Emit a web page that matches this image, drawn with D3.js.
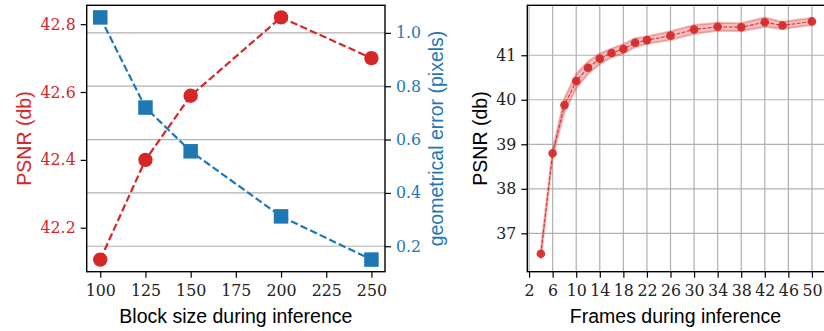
<!DOCTYPE html>
<html><head><meta charset="utf-8">
<script src="https://cdn.jsdelivr.net/npm/d3@7"></script>
<style>body{margin:0;background:#fff}svg{display:block}</style>
</head><body><svg id="c" width="824" height="331"></svg>
<script>
// ---- Data: left panel ----
const blockSizes = [100, 125, 150, 200, 250];
const blockPSNR = [42.106, 42.40, 42.589, 42.82, 42.70];
const blockGeomErr = [1.058, 0.72, 0.556, 0.312, 0.15];
const blockXTicks = [100, 125, 150, 175, 200, 225, 250];
const psnrLeftTicks = [42.2, 42.4, 42.6, 42.8];
const geomTicks = [0.2, 0.4, 0.6, 0.8, 1.0];

// ---- Data: right panel ----
const frames = [4, 6, 8, 10, 12, 14, 16, 18, 20, 22, 26, 30, 34, 38, 42, 45, 50];
const framePSNR = [36.54, 38.80, 39.88, 40.42, 40.72, 40.92, 41.05, 41.14, 41.28, 41.34, 41.44, 41.58, 41.64, 41.63, 41.74, 41.67, 41.76];
const frameLow  = [36.41, 38.72, 39.72, 40.26, 40.58, 40.80, 40.95, 41.04, 41.18, 41.26, 41.34, 41.48, 41.55, 41.54, 41.64, 41.59, 41.68];
const frameHigh = [36.66, 38.88, 40.04, 40.58, 40.86, 41.04, 41.15, 41.25, 41.38, 41.42, 41.54, 41.68, 41.73, 41.72, 41.85, 41.75, 41.84];
const frameXTicks = [2, 6, 10, 14, 18, 22, 26, 30, 34, 38, 42, 46, 50];
const frameYTicks = [37, 38, 39, 40, 41];

const RED = "#d62728", BLUE = "#1f77b4", GRID = "#b0b0b0";
const SANS = "'Liberation Sans', Arial, sans-serif";
const FS = 19.5;
const TICK_FS = "15.8px";

function pad(ext) { const r = ext[1] - ext[0]; return [ext[0] - 0.05 * r, ext[1] + 0.05 * r]; }

const svg = d3.select("#c");

function styleAxis(a, color) {
  a.select(".domain").remove();
  a.attr("font-family", "DejaVu Serif").attr("font-size", null);
  a.selectAll("text")
    .attr("font-family", "DejaVu Serif")
    .style("font-family", "'DejaVu Serif'")
    .style("font-size", TICK_FS).attr("fill", color);
  a.selectAll("line").attr("stroke", "#000").attr("stroke-width", 1.2);
}
function label(g, txt, color) {
  return g.append("text").style("font-family", SANS).style("font-size", FS + "px")
    .attr("text-anchor", "middle").attr("fill", color).text(txt);
}

// ================= LEFT PANEL =================
{
  const L = 86.7, R = 385, T = 5.3, B = 271.7;
  const x = d3.scaleLinear().domain(pad(d3.extent(blockSizes))).range([L, R]);
  const yL = d3.scaleLinear().domain(pad(d3.extent(blockPSNR))).range([B, T]);
  const yR = d3.scaleLinear().domain(pad(d3.extent(blockGeomErr))).range([B, T]);
  const g = svg.append("g");

  g.selectAll("line.grid").data(geomTicks).join("line")
    .attr("x1", L).attr("x2", R).attr("y1", d => yR(d)).attr("y2", d => yR(d))
    .attr("stroke", GRID).attr("stroke-width", 1.2);

  const ax = g.append("g").attr("transform", `translate(0,${B})`)
    .call(d3.axisBottom(x).tickValues(blockXTicks).tickSize(6).tickPadding(7).tickFormat(d3.format("d")));
  const ayl = g.append("g").attr("transform", `translate(${L},0)`)
    .call(d3.axisLeft(yL).tickValues(psnrLeftTicks).tickSize(6).tickPadding(5).tickFormat(d3.format(".1f")));
  const ayr = g.append("g").attr("transform", `translate(${R},0)`)
    .call(d3.axisRight(yR).tickValues(geomTicks).tickSize(6).tickPadding(5).tickFormat(d3.format(".1f")));
  styleAxis(ax, "#222");
  styleAxis(ayl, RED);
  styleAxis(ayr, BLUE);

  const lineL = d3.line().x((d, i) => x(blockSizes[i])).y(d => yL(d));
  const lineR = d3.line().x((d, i) => x(blockSizes[i])).y(d => yR(d));
  g.append("path").attr("d", lineL(blockPSNR)).attr("fill", "none").attr("stroke", RED)
    .attr("stroke-width", 2.2).attr("stroke-dasharray", "7.4,3.2");
  g.append("path").attr("d", lineR(blockGeomErr)).attr("fill", "none").attr("stroke", BLUE)
    .attr("stroke-width", 2.2).attr("stroke-dasharray", "7.4,3.2");
  g.selectAll("circle.p").data(blockPSNR).join("circle")
    .attr("cx", (d, i) => x(blockSizes[i])).attr("cy", d => yL(d)).attr("r", 7.2).attr("fill", RED);
  const s = 14.5;
  g.selectAll("rect.q").data(blockGeomErr).join("rect")
    .attr("x", (d, i) => x(blockSizes[i]) - s / 2).attr("y", d => yR(d) - s / 2)
    .attr("width", s).attr("height", s).attr("fill", BLUE);

  g.append("rect").attr("x", L).attr("y", T).attr("width", R - L).attr("height", B - T)
    .attr("fill", "none").attr("stroke", "#000").attr("stroke-width", 1.4);

  label(g, "Block size during inference", "#000").attr("x", (L + R) / 2).attr("y", 323);
  label(g, "PSNR (db)", RED).attr("transform", `translate(31,${(T + B) / 2}) rotate(-90)`);
  label(g, "geometrical error (pixels)", BLUE).attr("transform", `translate(443,${(T + B) / 2}) rotate(-90)`);
}

// ================= RIGHT PANEL =================
{
  const L = 527.3, R = 825.5, T = 5.3, B = 271.7;
  const x = d3.scaleLinear().domain(pad(d3.extent(frames))).range([L, R]);
  const y = d3.scaleLinear().domain(pad([d3.min(frameLow), d3.max(frameHigh)])).range([B, T]);
  const g = svg.append("g");

  g.selectAll("line.gx").data(frameXTicks).join("line")
    .attr("x1", d => x(d)).attr("x2", d => x(d)).attr("y1", T).attr("y2", B)
    .attr("stroke", GRID).attr("stroke-width", 1.2);
  g.selectAll("line.gy").data(frameYTicks).join("line")
    .attr("x1", L).attr("x2", R).attr("y1", d => y(d)).attr("y2", d => y(d))
    .attr("stroke", GRID).attr("stroke-width", 1.2);

  const ax = g.append("g").attr("transform", `translate(0,${B})`)
    .call(d3.axisBottom(x).tickValues(frameXTicks).tickSize(6).tickPadding(7).tickFormat(d3.format("d")));
  const ay = g.append("g").attr("transform", `translate(${L},0)`)
    .call(d3.axisLeft(y).tickValues(frameYTicks).tickSize(6).tickPadding(5).tickFormat(d3.format("d")));
  styleAxis(ax, "#222");
  styleAxis(ay, "#222");

  const area = d3.area().x((d, i) => x(frames[i])).y0((d, i) => y(frameLow[i])).y1((d, i) => y(frameHigh[i]));
  g.append("path").attr("d", area(framePSNR)).attr("fill", RED).attr("fill-opacity", 0.3)
    .attr("stroke", RED).attr("stroke-opacity", 0.3).attr("stroke-width", 2);
  const line = d3.line().x((d, i) => x(frames[i])).y(d => y(d));
  g.append("path").attr("d", line(framePSNR)).attr("fill", "none").attr("stroke", RED)
    .attr("stroke-width", 1.1).attr("stroke-dasharray", "3.7,1.6").attr("stroke-opacity", 0.9);
  g.selectAll("circle.p").data(framePSNR).join("circle")
    .attr("cx", (d, i) => x(frames[i])).attr("cy", d => y(d)).attr("r", 4.3)
    .attr("fill", RED).attr("fill-opacity", 0.92);

  g.append("rect").attr("x", L).attr("y", T).attr("width", R - L).attr("height", B - T)
    .attr("fill", "none").attr("stroke", "#000").attr("stroke-width", 1.4);

  label(g, "Frames during inference", "#000").attr("x", 675.5).attr("y", 323);
  label(g, "PSNR (db)", "#000").attr("transform", `translate(487,${(T + B) / 2}) rotate(-90)`);
}
</script></body></html>
